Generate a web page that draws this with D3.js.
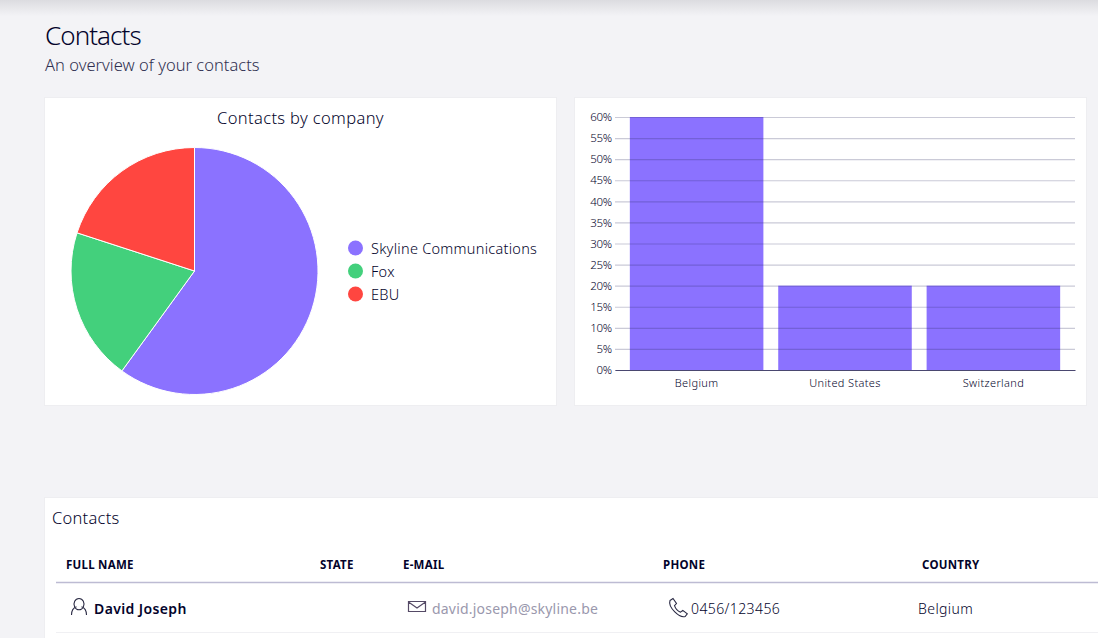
<!DOCTYPE html>
<html>
<head>
<meta charset="utf-8">
<title>Contacts</title>
<script src="https://cdn.jsdelivr.net/npm/d3@7"></script>
<style>
  html, body { margin: 0; padding: 0; background: #f3f3f6; overflow: hidden; }
  svg { display: block; font-family: "Noto Sans", "Open Sans", sans-serif; fill: #03032b; }
</style>
</head>
<body>
<svg id="page" width="1098" height="638"></svg>
<script>
// chart data
var companies = ["Skyline Communications", "Fox", "EBU"];
var companyShares = [60, 20, 20];
var companyColors = ["#8b72ff", "#43d07c", "#ff4640"];

var countries = ["Belgium", "United States", "Switzerland"];
var countryShares = [60, 20, 20];
var shareTicks = [0, 5, 10, 15, 20, 25, 30, 35, 40, 45, 50, 55, 60];

// table data
var columns = ["FULL NAME", "STATE", "E-MAIL", "PHONE", "COUNTRY"];
var columnX = [66, 320, 403, 663, 922];
var contact = { name: "David Joseph", email: "david.joseph@skyline.be", phone: "0456/123456", country: "Belgium" };

var FONT = '"Noto Sans", "Open Sans", sans-serif';
var INK = "#03032b";
var svg = d3.select("#page");

//------------------- page frame ------------------
var defs = svg.append("defs");
var shade = defs.append("linearGradient").attr("id", "topShade").attr("x2", 0).attr("y2", 1);
shade.append("stop").attr("offset", 0).attr("stop-color", "#dcdce0");
shade.append("stop").attr("offset", 1).attr("stop-color", "#f3f3f6");
svg.append("rect").attr("width", 1098).attr("height", 16).attr("fill", "url(#topShade)");

svg.append("text").attr("x", 45).attr("y", 45).attr("font-size", 26).attr("font-weight", 300)
  .attr("letter-spacing", -0.95).text("Contacts");
svg.append("text").attr("x", 45).attr("y", 71).attr("font-size", 16.5).attr("font-weight", 300)
  .attr("letter-spacing", 0.02).attr("fill", "#2f2f50").text("An overview of your contacts");

function card(x, y, w, h) {
  svg.append("rect").attr("x", x + 0.5).attr("y", y + 0.5).attr("width", w).attr("height", h)
    .attr("fill", "#fff").attr("stroke", "#eeeef1");
}
card(44, 97, 512, 308);
card(574, 97, 512, 308);
card(44, 497, 1060, 150);

//------------------- pie ------------------
svg.append("text").attr("x", 300.5).attr("y", 124).attr("text-anchor", "middle").attr("font-size", 16.5)
  .attr("font-weight", 300).attr("letter-spacing", 0.36).text("Contacts by company");

var pie = d3.pie().sort(null);
var arc = d3.arc().innerRadius(0).outerRadius(123.5);
svg.append("g").attr("transform", "translate(194.5,271)")
  .selectAll("path").data(pie(companyShares)).enter().append("path")
  .attr("d", arc)
  .attr("fill", function(d, i) { return companyColors[i]; })
  .attr("stroke", "#fff").attr("stroke-width", 1);

var legendY = d3.scalePoint().domain(companies).range([248, 294]);
var legend = svg.append("g").selectAll("g").data(companies).enter().append("g")
  .attr("transform", function(d) { return "translate(355.5," + legendY(d) + ")"; });
legend.append("circle").attr("r", 7.5).attr("fill", function(d, i) { return companyColors[i]; });
legend.append("text").attr("x", 15.5).attr("y", 5.5).attr("font-size", 14.5).attr("font-weight", 300)
  .attr("letter-spacing", 0.27).text(function(d) { return d; });

//------------------- bars ------------------
var x = d3.scaleBand().domain(countries).range([615, 1075]).paddingInner(0.1).paddingOuter(0.1);
var y = d3.scaleLinear().domain([0, 60]).range([370, 117]);

svg.append("g").selectAll("rect").data(countries).enter().append("rect")
  .attr("x", function(d) { return x(d); })
  .attr("width", x.bandwidth())
  .attr("y", function(d, i) { return y(countryShares[i]); })
  .attr("height", function(d, i) { return y(0) - y(countryShares[i]); })
  .attr("fill", "#8b72ff");

// grid sits over the bars, as in the original
var yAxis = d3.axisLeft(y).tickValues(shareTicks).tickSize(-460).tickPadding(3)
  .tickFormat(function(d) { return d + "%"; });
var yG = svg.append("g").attr("transform", "translate(615,0)").call(yAxis);
yG.attr("font-family", FONT);
yG.select(".domain").remove();
yG.selectAll("line").attr("stroke", "#2d2a5e").attr("stroke-opacity", 0.25).attr("stroke-width", 1.2);
yG.selectAll("text").attr("font-size", 11.5).attr("font-weight", 300).attr("letter-spacing", -0.2).attr("fill", INK);

var xAxis = d3.axisBottom(x).tickSize(0).tickPadding(9);
var xG = svg.append("g").attr("transform", "translate(0,370)").call(xAxis);
xG.attr("font-family", FONT);
xG.select(".domain").attr("stroke", "#4a4770").attr("stroke-width", 1.2);
xG.selectAll("text").attr("font-size", 11).attr("font-weight", 300).attr("letter-spacing", 0.35).attr("fill", INK);

//------------------- table ------------------
svg.append("text").attr("x", 52).attr("y", 524).attr("font-size", 16.5).attr("font-weight", 300)
  .attr("letter-spacing", 0.25).text("Contacts");

svg.append("g").selectAll("text").data(columns).enter().append("text")
  .attr("x", function(d, i) { return columnX[i]; })
  .attr("y", 569).attr("font-size", 11.5).attr("font-weight", 700).attr("letter-spacing", 0.25)
  .text(function(d) { return d; });
svg.append("line").attr("x1", 56).attr("x2", 1098).attr("y1", 582.5).attr("y2", 582.5).attr("stroke", "#bdbbd3").attr("stroke-width", 1.3);
svg.append("line").attr("x1", 56).attr("x2", 1098).attr("y1", 632.5).attr("y2", 632.5).attr("stroke", "#f0f0f3");

// row icons
var iconStyle = function(s) { return s.attr("fill", "none").attr("stroke", "#2a2a44").attr("stroke-width", 1.1); };
svg.append("path").attr("d", "M79 598.5a5 5.6 0 1 0 .01 0ZM71.5 615c0-5 3-7.5 5-8.2M86.5 615c0-5-3-7.5-5-8.2").call(iconStyle);
svg.append("path").attr("d", "M408.5 601.5h17v10h-17ZM408.5 602l8.5 6 8.5-6").call(iconStyle).attr("stroke", "#554a66").attr("stroke-width", 1.2);
svg.append("path").attr("d", "M670 600.5l3-2 3.5 5-2 2.2c1 3 3.5 5.5 6 6.5l2.3-1.8 4.5 3.5-2 2.5c-3 1-7-1-10.5-4.5s-6-8-4.8-11.4Z").call(iconStyle);

var cell = function(px, text, color, weight) {
  return svg.append("text").attr("x", px).attr("y", 614).attr("font-size", 14).attr("fill", color)
    .attr("font-weight", weight || 300).text(text);
};
cell(94, contact.name, INK, 600).attr("letter-spacing", 0.38);
cell(432, contact.email, "#9a98ad", 400).attr("letter-spacing", 0.2);
cell(691, contact.phone, INK).attr("letter-spacing", 0.4);
cell(918, contact.country, INK).attr("letter-spacing", 0.4);
</script>
</body>
</html>
